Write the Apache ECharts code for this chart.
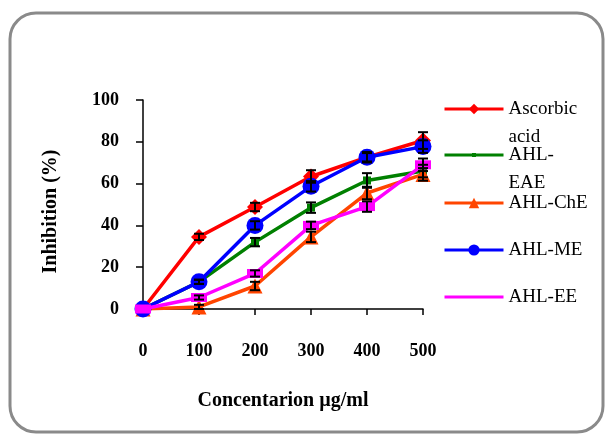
<!DOCTYPE html>
<html><head><meta charset="utf-8">
<script src="https://cdn.jsdelivr.net/npm/echarts@6/dist/echarts.min.js"></script>
<style>html,body{margin:0;padding:0;background:#fff}#c{width:605px;height:435px}</style>
</head><body><div id="c"></div>
<script>
var concentrations = [0, 100, 200, 300, 400, 500];
var seriesNames = ['Ascorbic acid', 'AHL-EAE', 'AHL-ChE', 'AHL-ME', 'AHL-EE'];
var ascorbic = [0, 34.5, 48.8, 63.4, 72.6, 80.6];
var ahlEAE   = [0, 13.0, 32.0, 48.5, 61.5, 66.0];
var ahlChE   = [0, 1.0, 11.0, 34.5, 55.5, 64.4];
var ahlME    = [0, 13.0, 40.0, 58.7, 72.6, 77.7];
var ahlEE    = [0, 5.5, 17.0, 40.0, 49.0, 69.0];
var errAscorbic = [0, 1.5, 2, 3, 2, 4];
var errEAE      = [0, 1, 2, 2.5, 3.5, 3];
var errChE      = [0, 1, 2, 2.5, 3, 3];
var errME       = [0, 1, 2, 2.5, 2.5, 3];
var errEE       = [0, 1, 1.5, 1.8, 2.5, 3];
var yTicks = [0, 20, 40, 60, 80, 100];

var values = [ascorbic, ahlEAE, ahlChE, ahlME, ahlEE];
var errs = [errAscorbic, errEAE, errChE, errME, errEE];
var colors = ['#ff0000', '#008000', '#ff4500', '#0000ff', '#ff00ff'];
var symbols = ['diamond', 'rect', 'triangle', 'circle', 'rect'];
var symbolSizes = [16, 8, 15, 17, [16, 9]];
var legendHeights = [13, 5, 13, 14, 10];
var legendSymbolOpacity = [1, 1, 1, 1, 0];
var legendTops = [67, 113, 189, 236, 283];
var legendLabels = ['\nAscorbic\nacid', '\nAHL-\nEAE', 'AHL-ChE', 'AHL-ME', 'AHL-EE'];

var serif = '"Liberation Serif", "DejaVu Serif", serif';
var series = [];
values.forEach(function (vals, i) {
  series.push({
    name: seriesNames[i], type: 'line', z: 2 + i,
    data: concentrations.map(function (c, j) { return [c, vals[j]]; }),
    symbol: symbols[i], symbolSize: symbolSizes[i], showSymbol: true,
    lineStyle: { color: colors[i], width: 3.5 },
    itemStyle: { color: colors[i] },
    animation: false
  });
});
values.forEach(function (vals, i) {
  series.push({
    name: seriesNames[i] + ' err', type: 'custom', z: 20,
    data: concentrations.map(function (c, j) { return [c, vals[j], errs[i][j]]; }),
    renderItem: function (params, api) {
      var x = api.value(0), v = api.value(1), e = api.value(2);
      if (!e) return null;
      var hi = api.coord([x, v + e]), lo = api.coord([x, v - e]);
      var w = 5;
      var st = { stroke: '#000', lineWidth: 2 };
      return { type: 'group', children: [
        { type: 'line', shape: { x1: hi[0], y1: hi[1], x2: lo[0], y2: lo[1] }, style: st },
        { type: 'line', shape: { x1: hi[0] - w, y1: hi[1], x2: hi[0] + w, y2: hi[1] }, style: st },
        { type: 'line', shape: { x1: lo[0] - w, y1: lo[1], x2: lo[0] + w, y2: lo[1] }, style: st }
      ]};
    },
    animation: false, silent: true
  });
});

var legends = seriesNames.map(function (n, i) {
  return {
    data: [n], left: 443, top: legendTops[i], orient: 'vertical',
    itemWidth: 59, itemHeight: legendHeights[i], padding: 0, selectedMode: false,
    itemStyle: { opacity: legendSymbolOpacity[i] },
    lineStyle: { width: 3 },
    formatter: function () { return legendLabels[i]; },
    textStyle: { fontFamily: serif, fontSize: 19, color: '#000', lineHeight: 28 }
  };
});

var chart = echarts.init(document.getElementById('c'));
chart.setOption({
  backgroundColor: '#fff',
  animation: false,
  grid: { left: 143, right: 182, top: 100, bottom: 126 },
  legend: legends,
  xAxis: {
    type: 'value', min: 0, max: 500, interval: 100,
    name: 'Concentarion µg/ml', nameLocation: 'middle', nameGap: 82,
    nameTextStyle: { fontFamily: serif, fontWeight: 'bold', fontSize: 20, color: '#000' },
    axisLine: { show: true, lineStyle: { color: '#000', width: 1.5 } },
    axisTick: { show: true, length: 6, inside: false, lineStyle: { color: '#000', width: 1.5 } },
    axisLabel: { margin: 33, fontFamily: serif, fontWeight: 'bold', fontSize: 18, color: '#000' },
    splitLine: { show: false }
  },
  yAxis: {
    type: 'value', min: 0, max: 100, interval: 20,
    name: 'Inhibition (%)', nameLocation: 'middle', nameGap: 82, nameRotate: 90,
    nameTextStyle: { fontFamily: serif, fontWeight: 'bold', fontSize: 20, color: '#000', padding: [0, 14, 0, 0] },
    axisLine: { show: true, lineStyle: { color: '#000', width: 1.5 } },
    axisTick: { show: true, length: 7, lineStyle: { color: '#000', width: 1.5 } },
    axisLabel: { margin: 24, fontFamily: serif, fontWeight: 'bold', fontSize: 18, color: '#000',
      formatter: function (v) { return yTicks.indexOf(v) >= 0 ? String(v) : ''; } },
    splitLine: { show: false }
  },
  graphic: [{
    type: 'rect', shape: { x: 10, y: 13, width: 593, height: 419, r: 26 },
    style: { fill: 'none', stroke: '#8a8a8a', lineWidth: 3 }, silent: true, z: 100
  }],
  series: series
});
</script></body></html>
